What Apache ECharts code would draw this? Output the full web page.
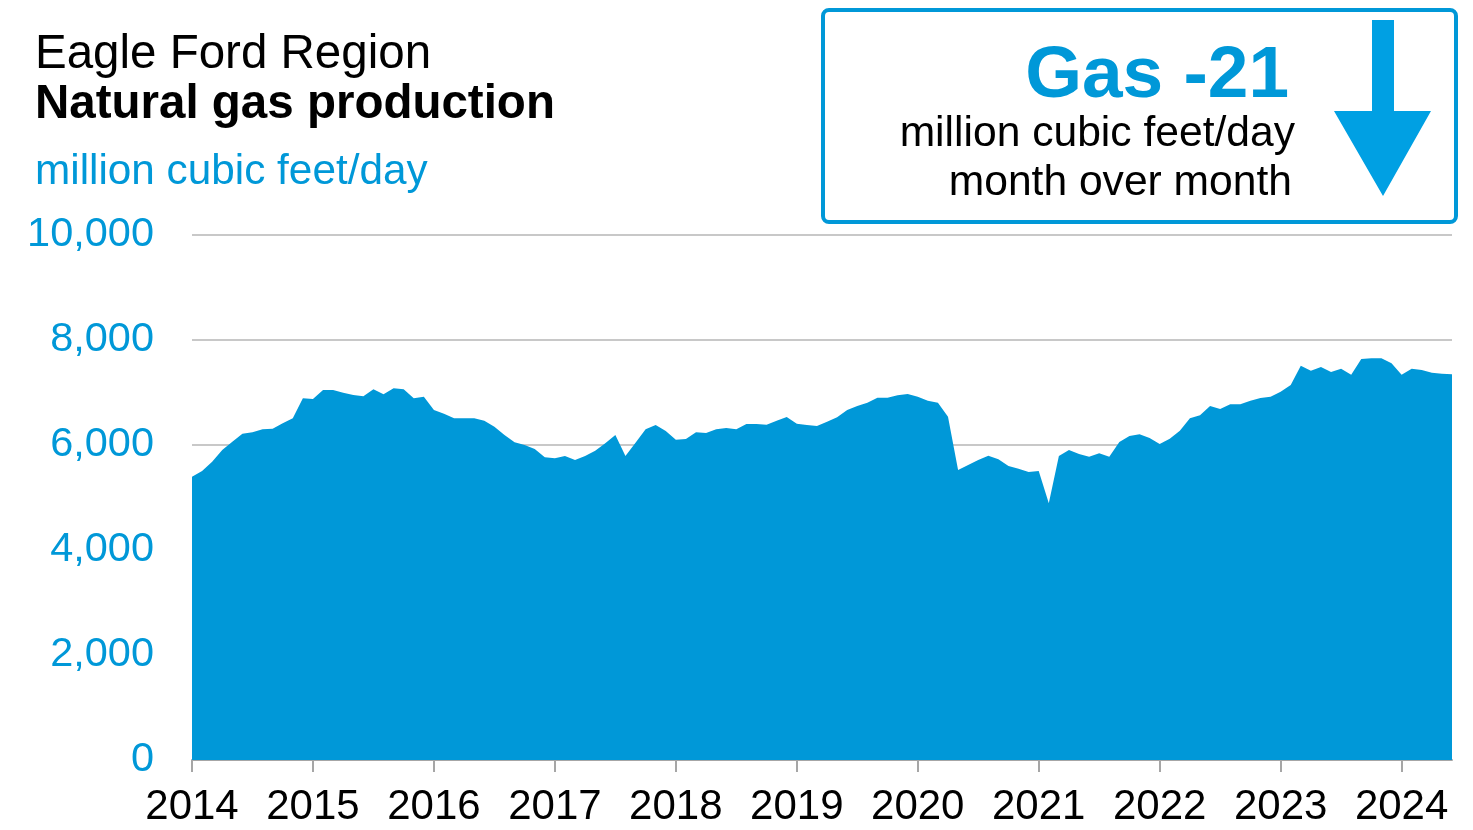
<!DOCTYPE html>
<html>
<head>
<meta charset="utf-8">
<title>Eagle Ford Region - Natural gas production</title>
<script src="https://cdn.jsdelivr.net/npm/echarts@6/dist/echarts.min.js"></script>
<style>
  html, body { margin: 0; padding: 0; background: #ffffff; }
  #chart { width: 1473px; height: 830px; }
</style>
</head>
<body>
<div id="chart"></div>
<script>
// Monthly natural gas production, million cubic feet/day (Jan 2014 - Jun 2024)
const startYear = 2014;
const gas2014 = [5396, 5505, 5683, 5905, 6063, 6216, 6242, 6299, 6311, 6413, 6508, 6889];
const gas2015 = [6876, 7048, 7048, 6997, 6953, 6928, 7060, 6965, 7080, 7060, 6889, 6921];
const gas2016 = [6667, 6597, 6508, 6508, 6508, 6464, 6350, 6191, 6051, 6000, 5924, 5766];
const gas2017 = [5746, 5790, 5714, 5790, 5892, 6032, 6191, 5790, 6044, 6299, 6381, 6267];
const gas2018 = [6102, 6114, 6242, 6229, 6299, 6324, 6299, 6400, 6400, 6387, 6464, 6533];
const gas2019 = [6406, 6381, 6362, 6445, 6527, 6667, 6743, 6806, 6902, 6902, 6946, 6972];
const gas2020 = [6921, 6845, 6806, 6540, 5524, 5619, 5714, 5797, 5727, 5600, 5549, 5486];
const gas2021 = [5505, 4889, 5790, 5905, 5829, 5778, 5841, 5778, 6057, 6172, 6204, 6133];
const gas2022 = [6019, 6121, 6273, 6508, 6565, 6743, 6686, 6775, 6775, 6845, 6895, 6921];
const gas2023 = [7016, 7143, 7511, 7416, 7486, 7391, 7454, 7340, 7638, 7651, 7651, 7556];
const gas2024 = [7340, 7454, 7429, 7378, 7359, 7346];

const yTicks = [0, 2000, 4000, 6000, 8000, 10000];
const monthOverMonthChange = -21;

const gasValues = [].concat(gas2014, gas2015, gas2016, gas2017, gas2018, gas2019,
                            gas2020, gas2021, gas2022, gas2023, gas2024);
const months = gasValues.map((v, i) => {
  const y = startYear + Math.floor(i / 12);
  const m = (i % 12) + 1;
  return y + '-' + (m < 10 ? '0' + m : m);
});

const BLUE = '#0098d8';
const FONT = 'Arial, "Liberation Sans", Helvetica, sans-serif';
const isJanuary = (idx) => idx % 12 === 0;

const chart = echarts.init(document.getElementById('chart'), null, { renderer: 'canvas' });

chart.setOption({
  animation: false,
  backgroundColor: '#ffffff',
  grid: { left: 192, right: 21, top: 235, bottom: 70, containLabel: false },
  xAxis: {
    type: 'category',
    data: months,
    boundaryGap: false,
    axisLine: { show: true, lineStyle: { color: '#a6a6a6', width: 2 } },
    axisTick: { show: true, interval: isJanuary, length: 12, lineStyle: { color: '#a6a6a6', width: 2 } },
    axisLabel: {
      interval: isJanuary,
      formatter: (v) => v.slice(0, 4),
      color: '#000000',
      fontFamily: FONT,
      fontSize: 42,
      margin: 26
    },
    splitLine: { show: false }
  },
  yAxis: {
    type: 'value',
    min: yTicks[0],
    max: yTicks[yTicks.length - 1],
    interval: yTicks[1] - yTicks[0],
    axisLine: { show: false },
    axisTick: { show: false },
    axisLabel: {
      color: BLUE,
      fontFamily: FONT,
      fontSize: 41.5,
      margin: 38,
      formatter: (v) => v.toLocaleString('en-US')
    },
    splitLine: { show: true, lineStyle: { color: '#c8c8c8', width: 2 } }
  },
  series: [{
    name: 'Natural gas production',
    type: 'line',
    data: gasValues,
    symbol: 'none',
    lineStyle: { width: 0 },
    areaStyle: { color: BLUE, opacity: 1 },
    z: 3
  }],
  graphic: [
    {
      type: 'text', left: 35, top: 31, silent: true,
      style: { text: 'Eagle Ford Region', font: '47.5px ' + FONT, fill: '#000000' }
    },
    {
      type: 'text', left: 35, top: 81, silent: true,
      style: { text: 'Natural gas production', font: 'bold 47.5px ' + FONT, fill: '#000000' }
    },
    {
      type: 'text', left: 35, top: 151, silent: true,
      style: { text: 'million cubic feet/day', font: '42.3px ' + FONT, fill: BLUE }
    },
    // Month-over-month change box
    {
      type: 'rect', silent: true,
      shape: { x: 823, y: 10, width: 633, height: 212, r: 6 },
      style: { fill: '#ffffff', stroke: BLUE, lineWidth: 4 }
    },
    {
      type: 'text', silent: true, x: 1289, y: 77,
      style: {
        text: 'Gas ' + monthOverMonthChange, font: 'bold 73px ' + FONT, fill: BLUE,
        align: 'right', verticalAlign: 'middle'
      }
    },
    {
      type: 'text', silent: true, x: 1295, y: 134,
      style: {
        text: 'million cubic feet/day', font: '42.6px ' + FONT, fill: '#000000',
        align: 'right', verticalAlign: 'middle'
      }
    },
    {
      type: 'text', silent: true, x: 1292, y: 183,
      style: {
        text: 'month over month', font: '42.6px ' + FONT, fill: '#000000',
        align: 'right', verticalAlign: 'middle'
      }
    },
    {
      type: 'polygon', silent: true,
      shape: {
        points: [[1372, 20], [1394, 20], [1394, 111], [1431, 111], [1383, 196], [1334, 111], [1372, 111]]
      },
      style: { fill: '#00a0e3' }
    }
  ]
});
</script>
</body>
</html>
